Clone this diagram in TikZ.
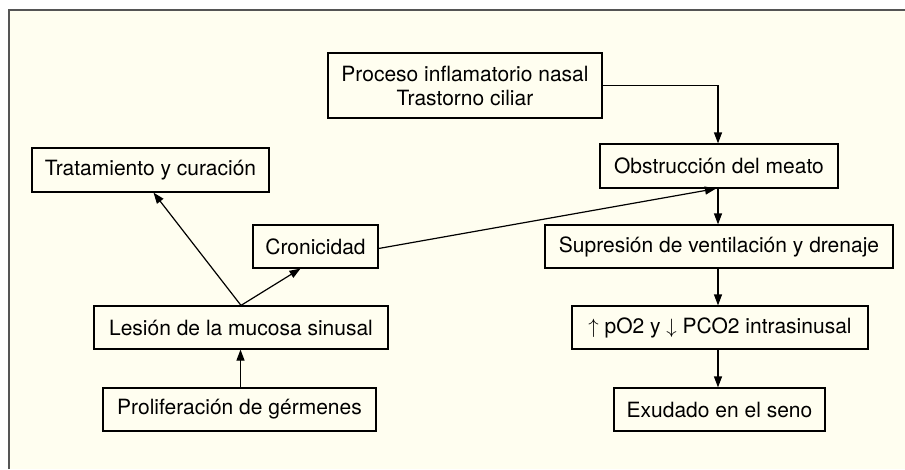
\documentclass[tikz,border=0pt]{standalone}
\usepackage{fontspec}
\setmainfont{TeX Gyre Heros}
\usetikzlibrary{arrows.meta}
\definecolor{cream}{HTML}{FFFEF0}
\definecolor{frame}{HTML}{555555}
\begin{document}
\begin{tikzpicture}[x=1pt,y=-1pt,
  box/.style={draw=black,line width=1.2pt,inner sep=0pt,align=center,
    font=\fontsize{21}{24}\selectfont},
  arr/.style={line width=1.2pt,-{Triangle[length=11pt,width=8pt]}},
  ln/.style={line width=1.2pt}]
\useasboundingbox (0,0) rectangle (905,469);
\fill[white] (0,0) rectangle (905,469);
\fill[cream] (9,10) rectangle (905,469);
\draw[frame,line width=2pt] (9,469) -- (9,10) -- (905,10);
% right column
\node[box,minimum width=274pt,minimum height=65pt] (proc) at (465,85.5) {Proceso inflamatorio nasal\\Trastorno ciliar};
\node[box,minimum width=238pt,minimum height=44pt] (obs) at (719,166) {Obstrucción del meato};
\node[box,minimum width=348pt,minimum height=43pt] (sup) at (719,246.5) {Supresión de ventilación y drenaje};
\node[box,minimum width=296pt,minimum height=43pt] (po2) at (720,327.5) {$\uparrow$ pO2 y $\downarrow$ PCO2 intrasinusal};
\node[box,minimum width=211pt,minimum height=43pt] (exu) at (719.5,409.5) {Exudado en el seno};
% left column
\node[box,minimum width=237pt,minimum height=44pt] (trat) at (150.5,170) {Tratamiento y curación};
\node[box,minimum width=125pt,minimum height=43pt] (cron) at (315.5,246.5) {Cronicidad};
\node[box,minimum width=294pt,minimum height=43pt] (les) at (241,327.5) {Lesión de la mucosa sinusal};
\node[box,minimum width=273pt,minimum height=43pt] (prol) at (239.5,409.5) {Proliferación de gérmenes};
% connectors
\draw[arr] (proc.east) -| ([xshift=-1pt]obs.north);
\draw[arr] ([xshift=-1pt]obs.south) -- ([xshift=-1pt]obs.south |- sup.north);
\draw[arr] ([xshift=-1pt]sup.south) -- ([xshift=-1pt]sup.south |- po2.north);
\draw[arr] ([xshift=-2pt]po2.south) -- ([xshift=-2pt]po2.south |- exu.north);
\draw[arr] ([xshift=1pt]prol.north) -- ([xshift=1pt]prol.north |- les.south);
\draw[arr] (les.north) -- ([xshift=3pt]trat.south);
\draw[arr] (les.north) -- ([xshift=-15pt]cron.south);
\draw[arr] ([yshift=-2pt]cron.east) -- ([xshift=-3pt]obs.south);
\end{tikzpicture}
\end{document}
